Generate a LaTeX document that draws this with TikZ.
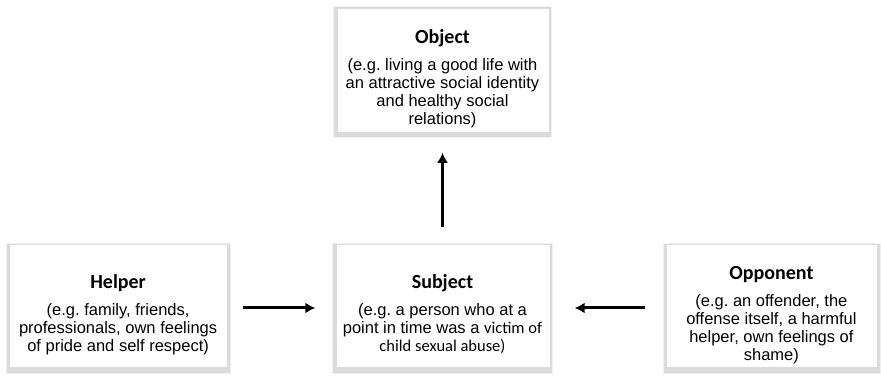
\documentclass[tikz,border=0pt]{standalone}
\usepackage{fontspec}
\setmainfont{Liberation Sans}
\newfontfamily\calibri{Carlito}
\usetikzlibrary{shapes,arrows.meta}
\usetikzlibrary{positioning}
\tikzset{auto,>={Latex[length=10pt,width=11pt]}, minimum size=0pt, node distance=1cm, font=\fontsize{16.5}{18}\selectfont\frenchspacing}
\tikzstyle{block} = [draw=gray!12, fill=gray!28, rectangle, minimum height=130pt, minimum width=220pt, inner sep=0pt, text centered, align=center,
  path picture={\fill[white] ([shift={(4pt,-2pt)}]path picture bounding box.north west) rectangle ([shift={(-3pt,6pt)}]path picture bounding box.south east);}]
\tikzstyle{link} = [->, line width=3pt]
\newcommand{\boxhead}[1]{{\calibri\bfseries\fontsize{20}{18}\selectfont\rule{0pt}{27pt}#1}\\[9pt]}

\begin{document}
\begin{tikzpicture}[x=1pt, y=1pt]
    \useasboundingbox (0,0) rectangle (881,375);
    \node [block] (subject) at (442.5,67) {\boxhead{Subject}(e.g. a person who at a\\point in time was a {\calibri victim of}\\{\calibri child sexual abuse)}};
    \node [block, left=102pt of subject, minimum width=224pt] (helper) {\boxhead{Helper}(e.g. family, friends,\\professionals, own feelings\\of pride and self respect)};
    \node [block, right=110pt of subject, minimum width=217pt] (opponent) {\boxhead{Opponent}(e.g. an offender, the\\offense itself, a harmful\\helper, own feelings of\\shame)};
    \node [block, above=105pt of subject, minimum width=218pt, minimum height=131pt] (object) {\boxhead{Object}(e.g. living a good life with\\an attractive social identity\\and healthy social\\relations)};

    \draw [link, shorten <=13pt, shorten >=17pt] (helper.east) -- (subject.west);
    \draw [link, shorten <=18pt, shorten >=22pt] (opponent.west) -- (subject.east);
    \draw [link, shorten <=16pt, shorten >=15pt] (subject.north) -- (object.south);
\end{tikzpicture}
\end{document}
